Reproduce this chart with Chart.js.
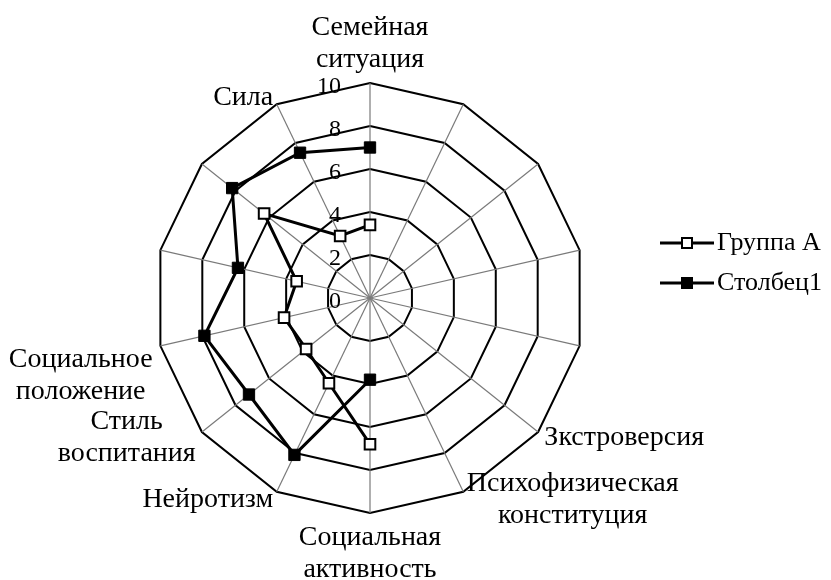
<!DOCTYPE html>
<html><head><meta charset="utf-8">
<script src="https://cdn.jsdelivr.net/npm/chart.js@4.4.0/dist/chart.umd.min.js"></script>
<style>html,body{margin:0;padding:0;background:#fff}</style>
</head><body>
<canvas id="c" width="831" height="580"></canvas>
<script>
// ---- data ----
const categories = [
  ['Семейная', 'ситуация'], '', '', '', '',
  ['Зкстроверсия'], ['Психофизическая', 'конституция'], ['Социальная', 'активность'],
  ['Нейротизм'], ['Стиль', 'воспитания'], ['Социальное', 'положение'], '', '', ['Сила']
];
const seriesNames = ['Группа А', 'Столбец1'];
const groupA    = [3.4, null, null, null, null, null, null, 6.8, 4.4, 3.8, 4.1, 3.5, 6.3, 3.2];
const stolbets1 = [7.0, null, null, null, null, null, null, 3.8, 8.1, 7.2, 7.9, 6.3, 8.2, 7.5];
const tickValues = [0, 2, 4, 6, 8, 10];

// ---- styling ----
const FONT = "'Liberation Serif', 'Times New Roman', serif";
const LEGEND_SIZE = 26, LABEL_SIZE = 28, TICK_SIZE = 24;
const PS_WIDTH = 34, LEG_PAD = 14;
// extra vertical shift (px) Excel applied to some category labels
const LABEL_SHIFT_Y = { 10: 27 };

function makeSample(fill) {
  const c = document.createElement('canvas');
  c.width = 54; c.height = 16;
  const g = c.getContext('2d');
  g.strokeStyle = '#000'; g.lineWidth = 3;
  g.beginPath(); g.moveTo(0, 8); g.lineTo(54, 8); g.stroke();
  if (fill === '#000') { g.fillStyle = '#000'; g.fillRect(21, 2, 12, 12); }
  else { g.fillStyle = '#fff'; g.fillRect(22, 3, 10, 10); g.lineWidth = 2; g.strokeRect(22, 3, 10, 10); }
  return c;
}

// measure legend text to place the legend box
const mctx = document.createElement('canvas').getContext('2d');
mctx.font = LEGEND_SIZE + 'px ' + FONT;
const maxTextW = Math.max(...seriesNames.map(t => mctx.measureText(t).width));
const legendW = LEG_PAD + PS_WIDTH + LEGEND_SIZE / 2 + maxTextW + 10;
const LEGEND_LEFT = 656;
const padRight = 831 - LEGEND_LEFT - legendW;

const excelLabels = {
  id: 'excelLabels',
  afterLayout(chart) {
    const lg = chart.legend;
    if (lg) { lg.top -= 35; lg.bottom -= 35; }
  },
  beforeDatasetsDraw(chart) {
    const s = chart.scales.r, ctx = chart.ctx;
    ctx.save();
    ctx.fillStyle = '#000';
    ctx.font = TICK_SIZE + 'px ' + FONT;
    ctx.textAlign = 'right'; ctx.textBaseline = 'middle';
    s.ticks.forEach(t => {
      const d = s.getDistanceFromCenterForValue(t.value);
      ctx.fillText(String(t.value), s.xCenter - 29, s.yCenter - d + 4);
    });
    ctx.font = LABEL_SIZE + 'px ' + FONT;
    ctx.textAlign = 'center';
    const lh = 32;
    chart.data.labels.forEach((lab, i) => {
      const lines = Array.isArray(lab) ? lab : (lab ? [lab] : []);
      if (!lines.length) return;
      const p = s.getPointPosition(i, s.drawingArea + 8);
      const ang = s.getIndexAngle(i);
      const sx = Math.sin(ang), cy = Math.cos(ang);
      const h = lines.length * lh;
      const w = Math.max(...lines.map(l => ctx.measureText(l).width));
      let top, cx;
      if (Math.abs(sx) < 0.05) { cx = p.x; top = cy > 0 ? p.y - h : p.y; }
      else { cx = sx > 0 ? p.x + w / 2 : p.x - w / 2; top = p.y - h / 2; }
      top += (LABEL_SHIFT_Y[i] || 0);
      lines.forEach((ln, k) => ctx.fillText(ln, cx, top + lh * k + lh / 2 + 1));
    });
    ctx.restore();
  }
};

new Chart(document.getElementById('c'), {
  type: 'radar',
  data: {
    labels: categories,
    datasets: [
      { label: seriesNames[0], data: groupA, order: 1,
        borderColor: '#000', borderWidth: 3, fill: false, tension: 0, spanGaps: false,
        pointStyle: 'rect', pointRadius: 7.5, pointBorderWidth: 2,
        pointBorderColor: '#000', pointBackgroundColor: '#fff' },
      { label: seriesNames[1], data: stolbets1, order: 0,
        borderColor: '#000', borderWidth: 3, fill: false, tension: 0, spanGaps: false,
        pointStyle: 'rect', pointRadius: 8, pointBorderWidth: 1,
        pointBorderColor: '#000', pointBackgroundColor: '#000' }
    ]
  },
  options: {
    responsive: false,
    animation: false,
    devicePixelRatio: 1,
    layout: { padding: { left: 84, right: padRight, top: 83, bottom: 67 } },
    scales: {
      r: {
        min: tickValues[0], max: tickValues[tickValues.length - 1],
        ticks: { stepSize: tickValues[1] - tickValues[0], display: false },
        grid: { color: '#000', lineWidth: 2 },
        angleLines: { color: '#7a7a7a', lineWidth: 1.2 },
        pointLabels: { display: false }
      }
    },
    plugins: {
      tooltip: { enabled: false },
      legend: {
        position: 'right',
        labels: {
          usePointStyle: true, pointStyleWidth: PS_WIDTH, padding: LEG_PAD,
          color: '#000', font: { family: FONT, size: LEGEND_SIZE },
          generateLabels(chart) {
            return chart.data.datasets.map((ds, i) => ({
              text: ds.label, datasetIndex: i, hidden: false,
              pointStyle: makeSample(i === 0 ? '#fff' : '#000'),
              fillStyle: '#000', strokeStyle: '#000', lineWidth: 0, fontColor: '#000'
            }));
          }
        }
      }
    }
  },
  plugins: [excelLabels]
});
</script>
</body></html>
